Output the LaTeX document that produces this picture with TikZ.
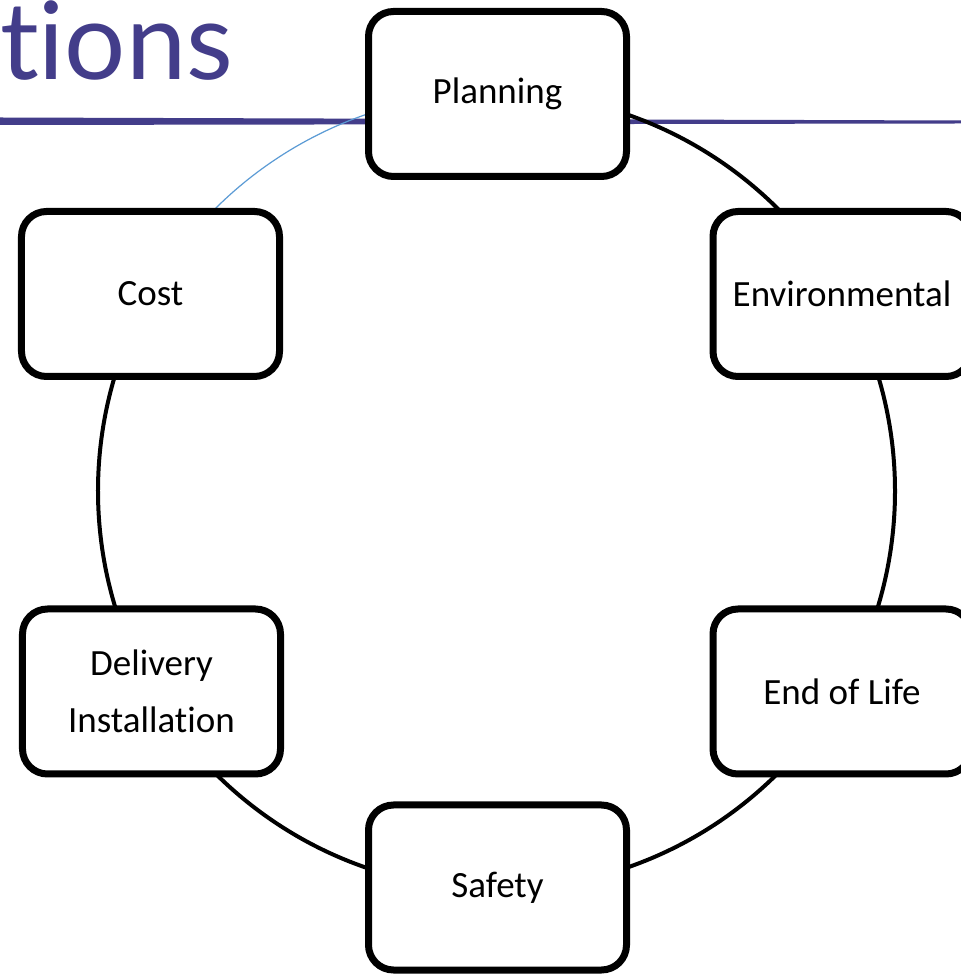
\documentclass[tikz,border=0pt]{standalone}
\usepackage{fontspec}
\setmainfont[Ligatures=NoCommon]{Carlito}
\newfontfamily\titlefont[Ligatures=NoCommon]{Lato}
\definecolor{titlepurple}{RGB}{67,61,138}
\definecolor{arcblue}{RGB}{91,155,213}
\begin{document}
\begin{tikzpicture}[x=1bp,y=1bp,
  box/.style={draw=black, line width=7bp, fill=white, rounded corners=25bp,
    minimum width=258bp, minimum height=165bp, align=center,
    font=\fontsize{37bp}{57bp}\selectfont, inner sep=0pt},
  ring/.style={line width=4bp, draw=black},
  bluearc/.style={line width=1.2bp, draw=arcblue}]
\useasboundingbox (0,0) rectangle (961,975);
\clip (0,0) rectangle (961,975);
\fill[white] (0,0) rectangle (961,975);
% title
\node[anchor=base west, inner sep=0pt, text=titlepurple,
  font=\titlefont\fontsize{108bp}{108bp}\selectfont] (title) at (0,895) {t\kern0pt ions};
% purple rule
\fill[titlepurple] (0,857.5) -- (961,854.5) -- (961,851.5) -- (0,850) -- cycle;
% ring
\coordinate (c) at (496.5,484);
\draw[ring] ([shift={(137:398.5)}]c) arc[start angle=137, end angle=468, radius=398.5];
\draw[bluearc] ([shift={(108:398.5)}]c) arc[start angle=108, end angle=137, radius=398.5];
% boxes
\node[box] (planning) at (497.5,881) {Planning};
\node[box] (cost) at (150.5,681) {Cost};
\node[box] (env) at (842,681) {Environmental};
\node[box] (deliv) at (151.5,283.5) {Delivery\\Installation};
\node[box] (eol) at (842,283.5) {End of Life};
\node[box] (safety) at (497.5,87.5) {Safety};
\end{tikzpicture}
\end{document}
